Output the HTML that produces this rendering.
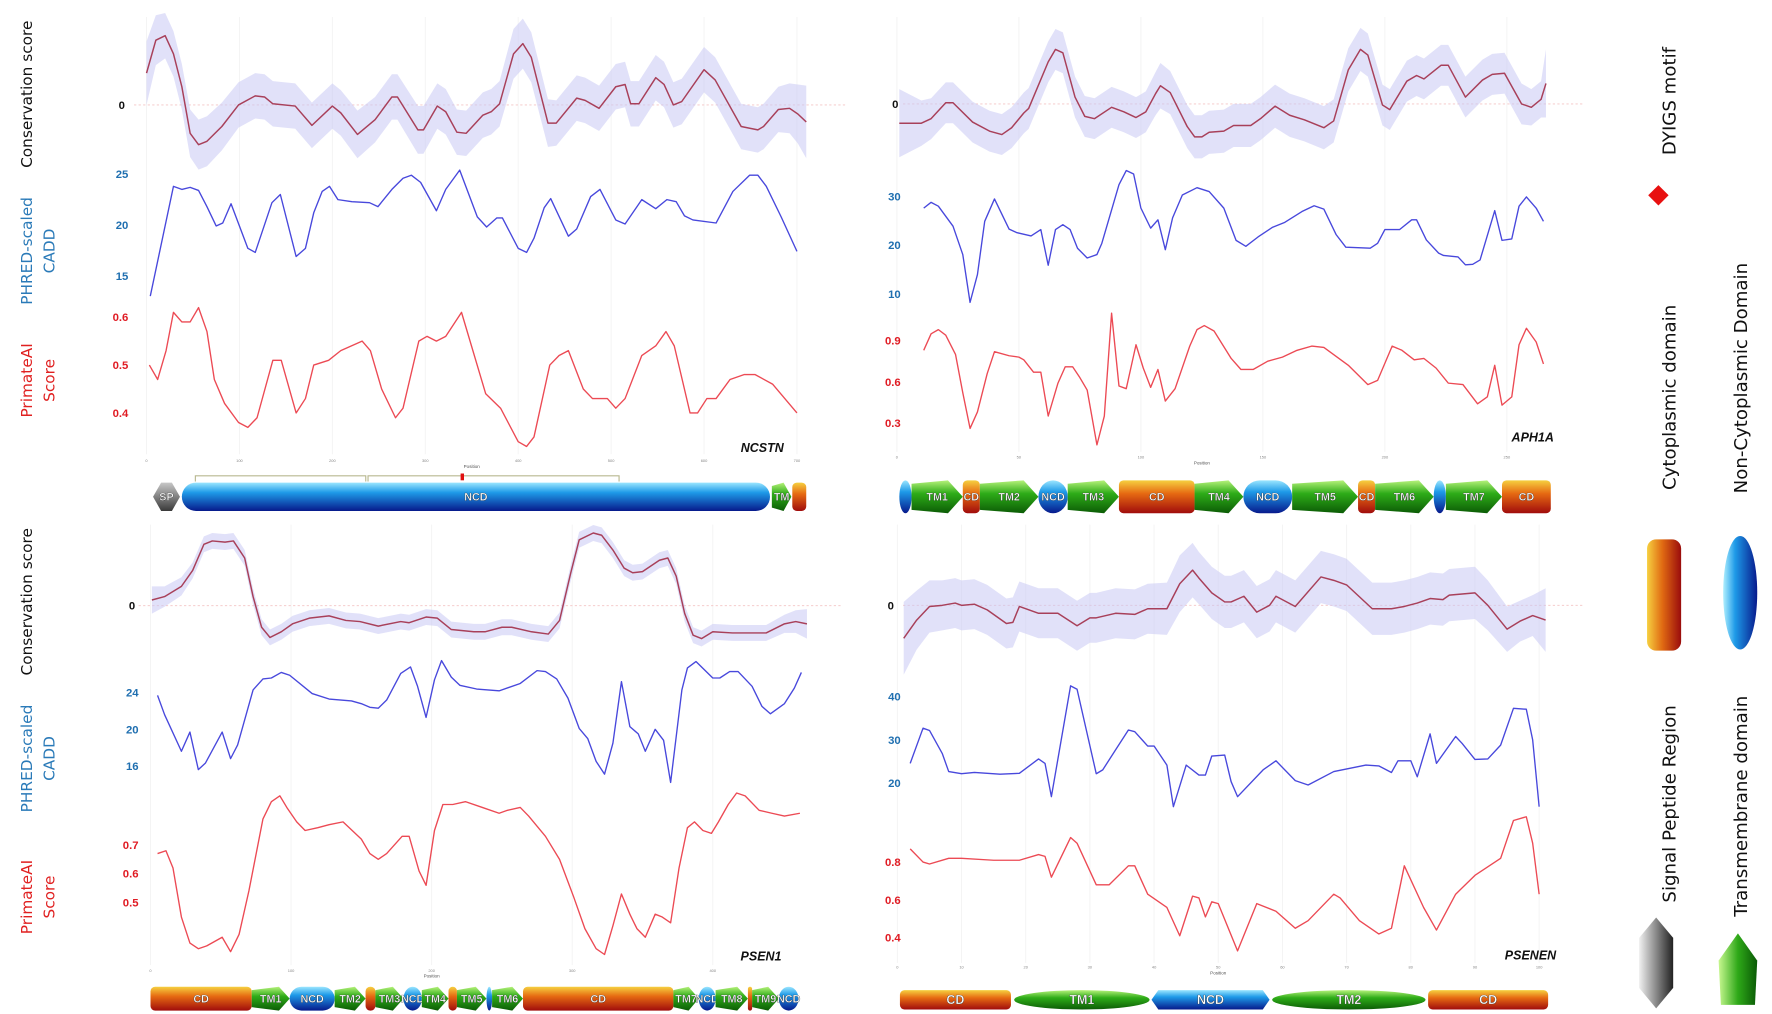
<!DOCTYPE html>
<html><head><meta charset="utf-8"><style>
html,body{margin:0;padding:0;background:#fff;width:1772px;height:1014px;overflow:hidden}
svg{display:block}
text{font-family:"Liberation Sans",sans-serif}
.ttl{font-family:"DejaVu Sans","Liberation Sans",sans-serif}
</style></head><body>
<svg id="fig" xmlns="http://www.w3.org/2000/svg" width="1772" height="1014" viewBox="0 0 1560 893" preserveAspectRatio="none">
<defs>
<linearGradient id="gNcd" x1="0" y1="0" x2="0" y2="1"><stop offset="0" stop-color="#9be6ff"/><stop offset="0.35" stop-color="#1e9ae8"/><stop offset="1" stop-color="#071a8c"/></linearGradient>
<linearGradient id="gCd" x1="0" y1="0" x2="0" y2="1"><stop offset="0" stop-color="#f6d040"/><stop offset="0.4" stop-color="#e66a12"/><stop offset="1" stop-color="#a00c0c"/></linearGradient>
<linearGradient id="gTm" x1="0" y1="0" x2="0" y2="1"><stop offset="0" stop-color="#b6f27a"/><stop offset="0.4" stop-color="#2eac18"/><stop offset="1" stop-color="#0c5c06"/></linearGradient>
<linearGradient id="gSp" x1="0" y1="0" x2="0" y2="1"><stop offset="0" stop-color="#c8c8c8"/><stop offset="1" stop-color="#3a3a3a"/></linearGradient>
<linearGradient id="gCdL" x1="0" y1="0" x2="1" y2="0"><stop offset="0" stop-color="#f6d040"/><stop offset="0.45" stop-color="#e06a12"/><stop offset="1" stop-color="#9a0c0c"/></linearGradient>
<linearGradient id="gNcdL" x1="0" y1="0" x2="1" y2="0"><stop offset="0" stop-color="#b0f0ff"/><stop offset="0.35" stop-color="#1e9ae8"/><stop offset="1" stop-color="#071a8c"/></linearGradient>
<linearGradient id="gSpL" x1="0" y1="0" x2="1" y2="0"><stop offset="0" stop-color="#f0f0f0"/><stop offset="1" stop-color="#222"/></linearGradient>
<linearGradient id="gTmL" x1="0" y1="0" x2="1" y2="0"><stop offset="0" stop-color="#c8f890"/><stop offset="0.5" stop-color="#2ea818"/><stop offset="1" stop-color="#0a5a06"/></linearGradient>
</defs>

<!-- left axis titles -->
<text class="ttl" transform="translate(28,83) rotate(-90)" text-anchor="middle" font-size="13.5" fill="#111">Conservation score</text>
<text class="ttl" transform="translate(28,221) rotate(-90)" text-anchor="middle" font-size="13.5" fill="#2a7ab8">PHRED-scaled</text>
<text class="ttl" transform="translate(48,221) rotate(-90)" text-anchor="middle" font-size="13.5" fill="#2a7ab8">CADD</text>
<text class="ttl" transform="translate(28,335) rotate(-90)" text-anchor="middle" font-size="13.5" fill="#e02020">PrimateAI</text>
<text class="ttl" transform="translate(48,335) rotate(-90)" text-anchor="middle" font-size="13.5" fill="#e02020">Score</text>
<text class="ttl" transform="translate(28,530) rotate(-90)" text-anchor="middle" font-size="13.5" fill="#111">Conservation score</text>
<text class="ttl" transform="translate(28,668) rotate(-90)" text-anchor="middle" font-size="13.5" fill="#2a7ab8">PHRED-scaled</text>
<text class="ttl" transform="translate(48,668) rotate(-90)" text-anchor="middle" font-size="13.5" fill="#2a7ab8">CADD</text>
<text class="ttl" transform="translate(28,790) rotate(-90)" text-anchor="middle" font-size="13.5" fill="#e02020">PrimateAI</text>
<text class="ttl" transform="translate(48,790) rotate(-90)" text-anchor="middle" font-size="13.5" fill="#e02020">Score</text>

<!-- NCSTN bracket -->
<g stroke="#b8b890" stroke-width="1" fill="none">
<polyline points="172,424 172,419 322,419 322,424"/>
<polyline points="324,424 324,419 545,419 545,424"/>
</g>
<rect x="405.5" y="417" width="3" height="6" fill="#e01010"/>

<!-- legend -->
<text class="ttl" transform="translate(1475,89) rotate(-90)" text-anchor="middle" font-size="16" fill="#111">DYIGS motif</text>
<path d="M1460,163 L1469,172 L1460,181 L1451,172 Z" fill="#e81010"/>
<text class="ttl" transform="translate(1475,350) rotate(-90)" text-anchor="middle" font-size="16" fill="#111">Cytoplasmic domain</text>
<text class="ttl" transform="translate(1538,333) rotate(-90)" text-anchor="middle" font-size="16" fill="#111">Non-Cytoplasmic Domain</text>
<rect x="1450" y="475" width="30" height="98" rx="8" fill="url(#gCdL)"/>
<ellipse cx="1532" cy="522" rx="15" ry="50" fill="url(#gNcdL)"/>
<text class="ttl" transform="translate(1475,708) rotate(-90)" text-anchor="middle" font-size="16" fill="#111">Signal Peptide Region</text>
<text class="ttl" transform="translate(1538,710) rotate(-90)" text-anchor="middle" font-size="16" fill="#111">Transmembrane domain</text>
<polygon points="1458,808 1473,826 1473,870 1458,888 1443,870 1443,826" fill="url(#gSpL)"/>
<polygon points="1530,822 1547,846 1545,885 1515,885 1513,846" fill="url(#gTmL)"/>
</svg>
<script>
// ===== NCSTN (top-left) =====
const tlConsPos=[0,10,20,29,38,47,56,65,81,99,117,127,136,160,178,200,209,227,246,264,270,292,298,313,322,334,344,362,371,380,395,405,414,432,441,463,472,487,505,515,521,530,548,557,567,576,600,612,640,658,664,680,692,701,710];
const tlConsVal=[2.8,5.7,6.1,4.5,1.6,-2.5,-3.5,-3.2,-1.9,0,0.8,0.7,0.1,-0.1,-1.8,-0.1,-0.7,-2.6,-1.3,0.7,0.7,-2.2,-2.2,-0.1,-0.6,-2.4,-2.5,-0.9,-0.6,0.1,4.5,5.4,4.2,-1.6,-1.6,0.6,0.4,-0.3,1.6,1.8,0.1,0.1,2.4,1.8,0,0.3,3.1,2.2,-1.9,-2.2,-1.9,-0.4,-0.3,-0.8,-1.5];
const tlConsSd=[2.8,2.2,2.0,2.0,2.0,2.1,2.2,2.2,2.1,2.0,2.0,2.0,2.0,2.0,2.0,2.0,2.0,2.1,2.0,2.0,2.0,2.1,2.1,2.0,2.0,2.0,2.0,2.0,2.0,2.0,2.2,2.2,2.2,2.1,2.0,2.0,2.0,2.0,2.0,2.0,2.0,2.0,2.0,2.0,2.0,2.0,2.0,2.0,2.0,2.0,2.0,2.0,2.2,2.6,3.2];
const tlCaddPos=[4,29,38,47,56,65,75,82,91,109,117,135,144,161,171,180,189,197,206,221,240,249,264,276,285,295,312,322,337,356,366,377,383,400,409,417,428,435,454,463,478,488,505,515,533,548,560,570,579,588,613,631,649,658,667,683,700];
const tlCaddVal=[13.0,23.8,23.5,23.7,23.4,21.8,19.9,20.2,22.1,17.7,17.3,22.2,23.0,16.9,17.7,21.2,23.3,23.8,22.5,22.3,22.2,21.8,23.5,24.6,24.9,24.2,21.4,23.5,25.4,20.8,19.8,20.7,20.7,17.7,17.3,18.7,21.7,22.6,18.9,19.6,22.8,23.5,20.5,20.1,22.5,21.6,22.5,22.3,20.9,20.5,20.2,23.3,24.9,24.9,23.8,20.8,17.4];
const tlPaiPos=[3,12,21,29,38,47,56,65,73,84,99,109,119,136,145,161,171,180,196,209,232,241,253,268,276,293,302,312,322,339,365,381,400,409,417,434,444,454,470,480,490,496,505,515,533,548,559,568,585,593,603,613,628,643,655,674,700];
const tlPaiVal=[0.50,0.47,0.53,0.61,0.59,0.59,0.62,0.57,0.47,0.42,0.38,0.37,0.39,0.51,0.51,0.40,0.43,0.50,0.51,0.53,0.55,0.53,0.45,0.39,0.41,0.55,0.56,0.55,0.56,0.61,0.44,0.41,0.34,0.33,0.35,0.50,0.52,0.53,0.45,0.43,0.43,0.43,0.41,0.43,0.52,0.54,0.57,0.54,0.40,0.40,0.43,0.43,0.47,0.48,0.48,0.46,0.40];
const tlCaddTicks=[15,20,25];
const tlPaiTicks=[0.4,0.5,0.6];
const tlPosTicks=[0,100,200,300,400,500,600,700];
const tlDomTypes=['SP','NCD','TM','CD'];
const tlDomStart=[7,38,673,695];
const tlDomEnd=[36,671,694,710];
const tlDomLabels=['SP','NCD','TM','CD'];

// ===== APH1A (top-right) =====
const trConsPos=[1,10,14,20,23,31,38,43,47,52,54,62,65,68,73,77,81,88,93,98,102,106,108,112,119,122,125,128,134,138,145,149,155,161,167,175,179,185,190,193,199,202,209,213,216,223,226,233,240,244,249,256,260,264,266];
const trConsVal=[-1.7,-1.7,-1.3,0.1,0.1,-1.6,-2.4,-2.7,-2.1,-0.8,-0.4,3.7,4.8,4.5,0.6,-1.1,-1.3,-0.3,-0.7,-1.2,-0.7,0.9,1.6,1.0,-2.0,-2.9,-2.9,-2.5,-2.4,-1.9,-1.9,-1.3,-0.2,-1.0,-1.4,-2.1,-1.5,3.0,4.8,4.3,-0.1,-0.5,2.0,2.5,2.2,3.4,3.4,0.6,2.1,2.6,2.7,0,-0.3,0.4,1.8];
const trConsSd=[3.0,2.0,1.8,1.8,1.8,1.8,1.8,1.8,1.8,1.8,1.8,1.8,1.8,1.8,1.8,1.8,1.8,1.8,1.8,1.8,1.8,1.9,2.0,1.9,1.9,1.9,1.9,1.9,1.9,1.9,1.9,1.9,1.9,1.9,1.9,1.9,1.9,1.9,1.9,1.9,1.8,1.8,1.8,1.8,1.8,1.8,1.8,1.8,1.8,1.8,1.8,1.8,1.6,1.6,3.0];
const trCaddPos=[11,14,17,23,27,30,33,36,40,46,49,55,59,62,65,68,71,74,78,82,84,91,94,97,100,104,107,110,113,117,123,128,134,139,143,148,154,159,166,171,175,180,184,194,197,200,206,211,213,217,222,224,230,233,236,239,245,248,252,255,258,262,265];
const trCaddVal=[27.6,28.8,28.0,23.9,18.1,8.3,14.0,24.9,29.5,23.3,22.6,21.9,23.2,15.9,23.2,24.2,23.2,19.4,17.4,18.1,20.4,32.4,35.3,34.6,27.6,23.5,25.2,19.1,25.6,30.3,31.8,31.0,27.6,21.0,19.8,21.7,23.7,24.7,26.9,28.1,27.4,22.2,19.6,19.4,20.4,23.2,23.2,25.2,25.2,21.1,18.4,17.9,17.6,16.0,16.1,17.0,27.1,21.0,21.3,28.0,29.9,27.6,24.9];
const trPaiPos=[11,14,17,20,24,27,30,33,37,40,46,50,52,56,59,62,66,69,72,75,78,82,85,88,91,94,98,101,104,107,110,114,120,123,126,130,137,141,146,152,158,164,170,175,185,193,197,203,207,212,216,221,226,232,238,242,245,248,252,255,258,262,265];
const trPaiVal=[0.83,0.95,0.98,0.94,0.80,0.52,0.26,0.38,0.66,0.82,0.79,0.78,0.76,0.67,0.67,0.35,0.59,0.71,0.71,0.63,0.54,0.14,0.35,1.10,0.57,0.55,0.87,0.70,0.56,0.69,0.46,0.55,0.86,0.98,1.01,0.97,0.77,0.69,0.69,0.75,0.78,0.83,0.86,0.85,0.72,0.58,0.61,0.86,0.83,0.76,0.77,0.70,0.59,0.58,0.44,0.49,0.72,0.43,0.49,0.87,0.99,0.89,0.73];
const trCaddTicks=[10,20,30];
const trPaiTicks=[0.3,0.6,0.9];
const trPosTicks=[0,50,100,150,200,250];
const trDomTypes=['NCD','TM','CD','TM','NCD','TM','CD','TM','NCD','TM','CD','TM','NCD','TM','CD'];
const trDomBounds=[1,6,27,34,58,70,91,122,142,162,189,196,220,225,248,268];
const trDomLabels=['','TM1','CD','TM2','NCD','TM3','CD','TM4','NCD','TM5','CD','TM6','','TM7','CD'];

// ===== PSEN1 (bottom-left) =====
const blConsPos=[1,10,22,30,38,44,53,59,67,73,79,85,93,101,113,127,139,149,162,178,184,196,204,214,230,238,250,257,271,283,291,299,305,315,321,329,337,343,350,362,368,374,380,386,392,400,414,438,451,459,467];
const blConsVal=[0.5,0.8,1.7,3.1,5.4,5.7,5.6,5.7,4.2,0.8,-1.9,-2.8,-2.3,-1.6,-1.1,-0.9,-1.3,-1.4,-1.8,-1.4,-1.5,-1.0,-1.1,-2.1,-2.3,-2.3,-1.9,-1.9,-2.3,-2.5,-1.3,2.9,5.8,6.4,6.2,4.9,3.3,2.9,3.0,4.0,4.2,2.6,-0.7,-2.6,-2.9,-2.3,-2.4,-2.4,-1.6,-1.4,-1.6];
const blConsSd=[1.2,0.9,0.8,0.7,0.7,0.7,0.7,0.7,0.7,0.7,0.7,0.7,0.7,0.7,0.7,0.7,0.7,0.7,0.7,0.7,0.7,0.7,0.7,0.7,0.7,0.7,0.7,0.7,0.7,0.7,0.7,0.7,0.7,0.7,0.7,0.7,0.7,0.7,0.7,0.7,0.7,0.7,0.7,0.7,0.7,0.7,0.7,0.7,0.8,1.0,1.3];
const blCaddPos=[5,10,22,28,34,39,51,57,62,73,80,86,93,99,115,127,143,150,156,162,168,178,185,190,196,202,207,214,220,232,248,263,275,281,289,297,305,311,317,323,329,335,341,347,352,359,365,370,378,382,388,400,405,412,418,428,435,441,451,458,463];
const blCaddVal=[23.7,21.6,17.6,19.7,15.6,16.3,19.7,16.8,18.3,24.3,25.5,25.6,26.2,25.9,23.9,23.3,23.1,22.8,22.4,22.3,23.2,26.1,26.8,24.7,21.3,25.4,27.5,25.7,24.8,24.4,24.2,25.0,26.4,26.3,25.5,23.4,20.1,19.0,16.5,15.1,18.5,25.2,20.3,19.5,17.6,20.0,18.8,14.2,24.3,26.7,27.4,25.6,25.6,26.3,26.3,24.7,22.5,21.7,22.8,24.5,26.2];
const blPaiPos=[5,11,16,22,28,34,40,51,57,63,70,80,86,92,97,104,110,119,127,137,150,156,162,168,179,184,191,196,202,208,215,224,236,248,254,263,269,281,291,301,309,317,323,329,335,341,346,352,359,364,370,376,382,387,393,399,404,411,417,423,433,442,451,462];
const blPaiVal=[0.67,0.68,0.62,0.45,0.36,0.34,0.35,0.38,0.33,0.39,0.54,0.79,0.85,0.87,0.83,0.78,0.75,0.76,0.77,0.78,0.72,0.67,0.65,0.67,0.73,0.73,0.61,0.56,0.75,0.84,0.84,0.85,0.83,0.81,0.82,0.83,0.80,0.73,0.65,0.52,0.41,0.34,0.32,0.42,0.53,0.46,0.41,0.38,0.46,0.45,0.43,0.62,0.76,0.78,0.75,0.74,0.78,0.84,0.88,0.87,0.82,0.81,0.80,0.81];
const blCaddTicks=[16,20,24];
const blPaiTicks=[0.5,0.6,0.7];
const blPosTicks=[0,100,200,300,400];
const blDomTypes=['CD','TM','NCD','TM','CD','TM','NCD','TM','CD','TM','NCD','TM','CD','TM','NCD','TM','CD','TM','NCD'];
const blDomBounds=[0,72,99,131,153,160,180,193,212,218,239,243,265,372,390,402,425,428,447,461];
const blDomLabels=['CD','TM1','NCD','TM2','','TM3','NCD','TM4','','TM5','','TM6','CD','TM7','NCD','TM8','','TM9','NCD'];

// ===== PSENEN (bottom-right) =====
const brConsPos=[1,3,5,7,9,10,12,14,17,18,19,22,25,28,30,31,34,37,39,42,44,46,47,49,51,52,54,56,58,59,62,66,68,70,74,77,79,81,83,85,86,90,92,95,97,99,101];
const brConsVal=[-2.9,-1.3,-0.1,0,0.2,0,0.1,-0.4,-1.6,-1.5,-0.1,-0.7,-0.7,-1.8,-1.1,-1.1,-0.7,-0.8,-0.3,-0.3,1.9,3.1,2.4,1.1,0.3,0.3,0.8,-0.6,0,0.8,-0.1,2.5,2.2,1.8,-0.3,-0.3,-0.1,0.2,0.6,0.5,0.9,1.1,0,-2.1,-1.4,-0.9,-1.3];
const brConsSd=[3.2,2.6,2.3,2.2,2.2,2.2,2.2,2.2,2.2,2.2,2.2,2.2,2.2,2.2,2.2,2.2,2.2,2.2,2.2,2.3,2.5,2.4,2.3,2.3,2.3,2.3,2.3,2.3,2.3,2.3,2.3,2.3,2.3,2.3,2.3,2.3,2.3,2.3,2.3,2.3,2.3,2.3,2.2,2.0,1.8,1.8,2.8];
const brCaddPos=[2,4,5,7,8,10,12,16,19,22,23,24,27,28,31,32,34,36,37,39,40,42,43,45,47,48,49,51,52,53,57,59,62,64,68,73,75,77,78,80,81,83,84,87,88,90,92,94,96,98,99,100];
const brCaddVal=[24.6,32.7,32.2,26.9,22.7,22.2,22.5,22.1,22.3,25.6,24.6,16.9,42.5,41.7,22.2,23.1,27.7,32.3,31.9,28.6,28.6,24.2,14.6,24.2,21.9,21.9,26.3,26.5,20.4,16.9,23.1,25.2,20.6,19.6,22.7,24.2,24.0,22.5,25.2,25.2,21.5,31.4,24.6,30.8,29.2,25.5,25.6,28.8,37.3,37.1,30.0,14.6];
const brPaiPos=[2,4,5,8,10,15,19,22,23,24,27,28,31,33,36,37,39,42,44,46,47,48,49,50,53,56,59,62,64,68,69,72,75,77,79,82,84,87,90,94,96,98,99,100];
const brPaiVal=[0.87,0.80,0.79,0.82,0.82,0.81,0.81,0.84,0.83,0.72,0.93,0.90,0.68,0.68,0.78,0.78,0.63,0.56,0.41,0.62,0.61,0.51,0.59,0.58,0.33,0.58,0.54,0.45,0.49,0.63,0.61,0.49,0.42,0.45,0.78,0.56,0.44,0.63,0.73,0.82,1.02,1.04,0.90,0.63];
const brCaddTicks=[20,30,40];
const brPaiTicks=[0.4,0.6,0.8];
const brPosTicks=[0,10,20,30,40,50,60,70,80,90,100];
const brDomTypes=['CD','TM','NCD','TM','CD'];
const brDomStart=[0.4,18.2,39.6,58.4,82.7];
const brDomEnd=[17.7,39.3,58,82.3,101.4];
const brDomLabels=['CD','TM1','NCD','TM2','CD'];

const NS='http://www.w3.org/2000/svg';
const svg=document.getElementById('fig');
function mk(tag,attrs,parent){const e=document.createElementNS(NS,tag);for(const k in attrs)e.setAttribute(k,attrs[k]);(parent||svg).appendChild(e);return e;}
function pts(pos,val,xf,yf){return pos.map((p,i)=>xf(p).toFixed(1)+','+yf(val[i]).toFixed(1)).join(' ');}

function drawPanel(c){
  const g=mk('g',{});
  
  
  const xf=p=>c.x0+p*c.xs;
  const consY=v=>c.zero-v*10;
  const caddY=v=>c.caddY0+(c.caddRef-v)*c.caddK;
  const paiY=v=>c.paiY0+(c.paiRef-v)*c.paiK;
  c.posTicks.forEach(t=>{
    const l=mk('line',{x1:xf(t),x2:xf(t),y1:c.gridTop,y2:c.gridBot,stroke:'#f3f3f3','stroke-width':0.8},g);
    
    
  });
  const zl=mk('line',{x1:c.zeroX1,x2:c.zeroX2,y1:c.zero,y2:c.zero,stroke:'#f4c4c4','stroke-width':0.8,'stroke-dasharray':'2,2'},g);
  
  
  const zt=mk('text',{x:c.zeroLabelX,y:c.zero+3.5,'font-size':10,'font-weight':'bold','text-anchor':'end',fill:'#111'},g);
  zt.textContent='0';
  
  
  const up=c.consPos.map((p,i)=>xf(p).toFixed(1)+','+consY(c.consVal[i]+(c.consSd[i]!==undefined?c.consSd[i]:2)).toFixed(1));
  const lo=c.consPos.map((p,i)=>xf(p).toFixed(1)+','+consY(c.consVal[i]-(c.consSd[i]!==undefined?c.consSd[i]:2)).toFixed(1)).reverse();
  const band=mk('polygon',{points:up.concat(lo).join(' '),fill:'#c8c8f4','fill-opacity':0.55,stroke:'none'},g);
  
  
  const cl=mk('polyline',{points:pts(c.consPos,c.consVal,xf,consY),fill:'none',stroke:'#a8405a','stroke-width':1.3,'stroke-linejoin':'round'},g);
  
  
  const ca=mk('polyline',{points:pts(c.caddPos,c.caddVal,xf,caddY),fill:'none',stroke:'#4848dc','stroke-width':1.2,'stroke-linejoin':'round'},g);
  
  
  c.caddTicks.forEach(t=>{
    const tx=mk('text',{x:c.tickX,y:caddY(t)+3.5,'font-size':10,'font-weight':'bold','text-anchor':'end',fill:'#1f6fb0'},g);
    tx.textContent=String(t);
    
    
  });
  const pa=mk('polyline',{points:pts(c.paiPos,c.paiVal,xf,paiY),fill:'none',stroke:'#ec4a54','stroke-width':1.2,'stroke-linejoin':'round'},g);
  
  
  c.paiTicks.forEach(t=>{
    const tx=mk('text',{x:c.tickX,y:paiY(t)+3.5,'font-size':10,'font-weight':'bold','text-anchor':'end',fill:'#e01c24'},g);
    tx.textContent=t.toFixed(1);
    
    
  });
  c.posTicks.forEach(t=>{
    const tx=mk('text',{x:xf(t),y:c.posY,'font-size':3.5,'text-anchor':'middle',fill:'#888'},g);
    tx.textContent=String(t);
    
    
  });
  const pl=mk('text',{x:(xf(c.posTicks[0])+xf(c.posTicks[c.posTicks.length-1]))/2,y:c.posY+5,'font-size':4,'text-anchor':'middle',fill:'#555'},g);
  pl.textContent='Position';
  
  
  const gl=mk('text',{x:c.geneX,y:c.geneY,'font-size':11,'font-style':'italic','font-weight':'bold','text-anchor':'end',fill:'#111','font-family':'Liberation Serif, serif'},g);
  gl.textContent=c.gene;
  
  
  const y1=c.domY1,y2=c.domY2,h=y2-y1,ym=(y1+y2)/2;
  c.domTypes.forEach((t,i)=>{
    const a=xf(c.domStart[i]),b=xf(c.domEnd[i]),w=b-a;
    let s;
    if(t==='CD'){s=mk('rect',{x:a,y:y1,width:w,height:h,rx:Math.min(4,w/2),fill:'url(#gCd)'},g);}
    else if(t==='NCD'){
      if(c.roundStyle&&w>40){s=mk('polygon',{points:[a+6,y1,b-6,y1,b,ym,b-6,y2,a+6,y2,a,ym].join(' '),fill:'url(#gNcd)'},g);}
      else s=mk('rect',{x:a,y:y1,width:w,height:h,rx:Math.min(w/2,h/2),ry:h/2,fill:'url(#gNcd)'},g);
    }
    else if(t==='TM'){
      if(c.roundStyle){s=mk('ellipse',{cx:(a+b)/2,cy:ym,rx:w/2,ry:h/2,fill:'url(#gTm)'},g);}
      else{const tip=Math.min(h*0.45,w*0.4);s=mk('polygon',{points:[a,y1+3,b-tip,y1,b,ym,b-tip,y2,a,y2-3].join(' '),fill:'url(#gTm)'},g);}
    }
    else {s=mk('polygon',{points:[a+w*0.3,y1,b-w*0.3,y1,b,ym,b-w*0.3,y2,a+w*0.3,y2,a,ym].join(' '),fill:'url(#gSp)'},g);}
    
    
    const lab=c.domLabels[i];
    if(lab&&w>14){
      const tx=mk('text',{x:(a+b)/2,y:ym+3.5,'font-size':c.roundStyle?11:9.5,'font-weight':'bold','text-anchor':'middle',fill:'#fff',stroke:'#333','stroke-width':0.3},g);
      tx.textContent=lab;
      
      
    }
  });
}
function boundsToStart(b){return b.slice(0,-1);}
function boundsToEnd(b){return b.slice(1);}

drawPanel({id:'ncstn',gene:'NCSTN',x0:129,xs:0.818,zero:92.4,zeroX1:118,zeroX2:745,zeroLabelX:110,
  caddY0:153.4,caddRef:25,caddK:8.95,paiY0:279.3,paiRef:0.6,paiK:422,tickX:113,
  consPos:tlConsPos,consVal:tlConsVal,consSd:tlConsSd,caddPos:tlCaddPos,caddVal:tlCaddVal,paiPos:tlPaiPos,paiVal:tlPaiVal,
  caddTicks:tlCaddTicks,paiTicks:tlPaiTicks,posTicks:tlPosTicks,posY:407,gridTop:15,gridBot:400,geneX:690,geneY:398,
  domTypes:tlDomTypes,domStart:tlDomStart,domEnd:tlDomEnd,domLabels:tlDomLabels,domY1:425,domY2:450,roundStyle:false});
drawPanel({id:'aph1a',gene:'APH1A',x0:789.6,xs:2.148,zero:91.5,zeroX1:795,zeroX2:1395,zeroLabelX:791,
  caddY0:173,caddRef:30,caddK:4.3,paiY0:300,paiRef:0.9,paiK:120.8,tickX:793,
  consPos:trConsPos,consVal:trConsVal,consSd:trConsSd,caddPos:trCaddPos,caddVal:trCaddVal,paiPos:trPaiPos,paiVal:trPaiVal,
  caddTicks:trCaddTicks,paiTicks:trPaiTicks,posTicks:trPosTicks,posY:404,gridTop:15,gridBot:398,geneX:1368,geneY:389,
  domTypes:trDomTypes,domStart:boundsToStart(trDomBounds),domEnd:boundsToEnd(trDomBounds),domLabels:trDomLabels,domY1:423,domY2:452,roundStyle:false});
drawPanel({id:'psen1',gene:'PSEN1',x0:132.5,xs:1.2375,zero:533.4,zeroX1:122,zeroX2:742,zeroLabelX:119,
  caddY0:610,caddRef:24,caddK:8.07,paiY0:744.1,paiRef:0.7,paiK:254,tickX:122,
  consPos:blConsPos,consVal:blConsVal,consSd:blConsSd,caddPos:blCaddPos,caddVal:blCaddVal,paiPos:blPaiPos,paiVal:blPaiVal,
  caddTicks:blCaddTicks,paiTicks:blPaiTicks,posTicks:blPosTicks,posY:856,gridTop:462,gridBot:850,geneX:688,geneY:846,
  domTypes:blDomTypes,domStart:boundsToStart(blDomBounds),domEnd:boundsToEnd(blDomBounds),domLabels:blDomLabels,domY1:869,domY2:890,roundStyle:false});
drawPanel({id:'psenen',gene:'PSENEN',x0:790,xs:5.65,zero:533.1,zeroX1:795,zeroX2:1395,zeroLabelX:787,
  caddY0:613.5,caddRef:40,caddK:3.815,paiY0:792.5,paiRef:0.6,paiK:166.4,tickX:793,
  consPos:brConsPos,consVal:brConsVal,consSd:brConsSd,caddPos:brCaddPos,caddVal:brCaddVal,paiPos:brPaiPos,paiVal:brPaiVal,
  caddTicks:brCaddTicks,paiTicks:brPaiTicks,posTicks:brPosTicks,posY:853,gridTop:462,gridBot:848,geneX:1370,geneY:845,
  domTypes:brDomTypes,domStart:brDomStart,domEnd:brDomEnd,domLabels:brDomLabels,domY1:872,domY2:889,roundStyle:true});
</script>
</body></html>
